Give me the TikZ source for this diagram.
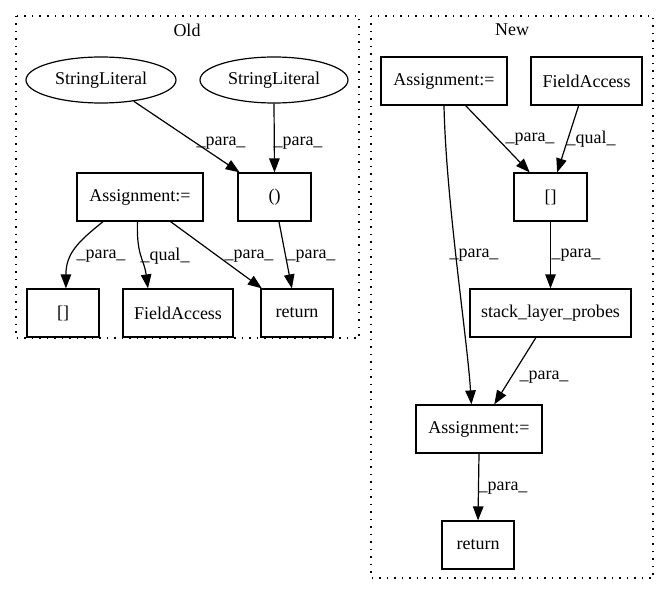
\documentclass[tikz,border=0pt]{standalone}
\usepackage{fontspec}
\setmainfont{Liberation Serif}
\usetikzlibrary{arrows.meta,shapes.geometric,calc}
\newcommand\botpt[2]{($(#1.south west)!#2!(#1.south east)$)}
\newcommand\toppt[2]{($(#1.north west)!#2!(#1.north east)$)}
\begin{document}
\begin{tikzpicture}[x=1pt,y=-1pt,
  txt/.style={font=\fontsize{18}{20}\selectfont},
  box/.style={txt, draw, line width=1.2pt, minimum height=48pt, inner sep=0pt},
  ell/.style={txt, draw, ellipse, line width=1.2pt, minimum height=46pt, inner sep=0pt},
  edge/.style={line width=1.2pt, -{Triangle[length=14pt,width=10.5pt]}},
  lbl/.style={txt, inner sep=0pt},
  cluster/.style={draw, line width=1.2pt, dash pattern=on 1.5pt off 6pt}]
\useasboundingbox (0,0) rectangle (669,596);
% clusters
\draw[cluster] (16,16) rectangle (359,338);
\draw[cluster] (371,16) rectangle (653,578);
\node[lbl] (told) at (187,30) {Old};
\node[lbl] (tnew) at (512,30) {New};
% Old nodes
\node[ell, minimum width=150pt] (sl1) at (101,80) {StringLiteral};
\node[ell, minimum width=148pt] (sl2) at (274,80) {StringLiteral};
\node[box, minimum width=126pt] (aold) at (140,197) {Assignment:=};
\node[box, minimum width=73pt] (par) at (274.5,197) {()};
\node[box, minimum width=72pt] (idxold) at (63,313) {[]};
\node[box, minimum width=110pt] (faold) at (178,313) {FieldAccess};
\node[box, minimum width=72pt] (retold) at (297,313) {return};
% New nodes
\node[box, minimum width=126pt] (anew) at (444,81) {Assignment:=};
\node[box, minimum width=111pt] (fanew) at (586.5,81) {FieldAccess};
\node[box, minimum width=73pt] (idxnew) at (550.5,197) {[]};
\node[box, minimum width=161pt] (slp) at (550.5,313) {stack\_layer\_probes};
\node[box, minimum width=126pt] (anew2) at (479,429) {Assignment:=};
\node[box, minimum width=72pt] (retnew) at (478,545) {return};
% Old edges
\draw[edge] (sl1.-33) -- \toppt{par}{0.03};
\node[lbl] (l1) at (221,143) {\_para\_};
\draw[edge] (sl2.south) -- (par.north);
\node[lbl] (l2) at (298,143) {\_para\_};
\draw[edge] \botpt{aold}{0.21} .. controls +(-25,20) and +(0,-35) .. \toppt{idxold}{0.54};
\node[lbl] (l3) at (101,256) {\_para\_};
\draw[edge] \botpt{aold}{0.48} .. controls +(-1,35) and +(-4,-30) .. \toppt{faold}{0.23};
\node[lbl] (l4) at (165,256) {\_qual\_};
\draw[edge] \botpt{aold}{0.74} -- \toppt{retold}{0.02};
\node[lbl] (l5) at (249,256) {\_para\_};
\draw[edge] \botpt{par}{0.56} -- \toppt{retold}{0.43};
\node[lbl] (l6) at (311,256) {\_para\_};
% New edges
\draw[edge] \botpt{anew}{0.67} -- \toppt{idxnew}{0.22};
\node[lbl] (l7) at (530,139) {\_para\_};
\draw[edge] \botpt{fanew}{0.43} -- \toppt{idxnew}{0.59};
\node[lbl] (l8) at (591,139) {\_qual\_};
\draw[edge] (idxnew.south) -- (slp.north);
\node[lbl] (l9) at (576,255) {\_para\_};
\draw[edge] \botpt{anew}{0.5} .. controls +(2,95) and +(-4,-65) .. \toppt{anew2}{0.44};
\node[lbl] (l10) at (474,255) {\_para\_};
\draw[edge] \botpt{slp}{0.41} -- \toppt{anew2}{0.62};
\node[lbl] (l11) at (544,377) {\_para\_};
\draw[edge] (anew2.south) -- (retnew.north);
\node[lbl] (l12) at (503,488) {\_para\_};
\end{tikzpicture}
\end{document}
